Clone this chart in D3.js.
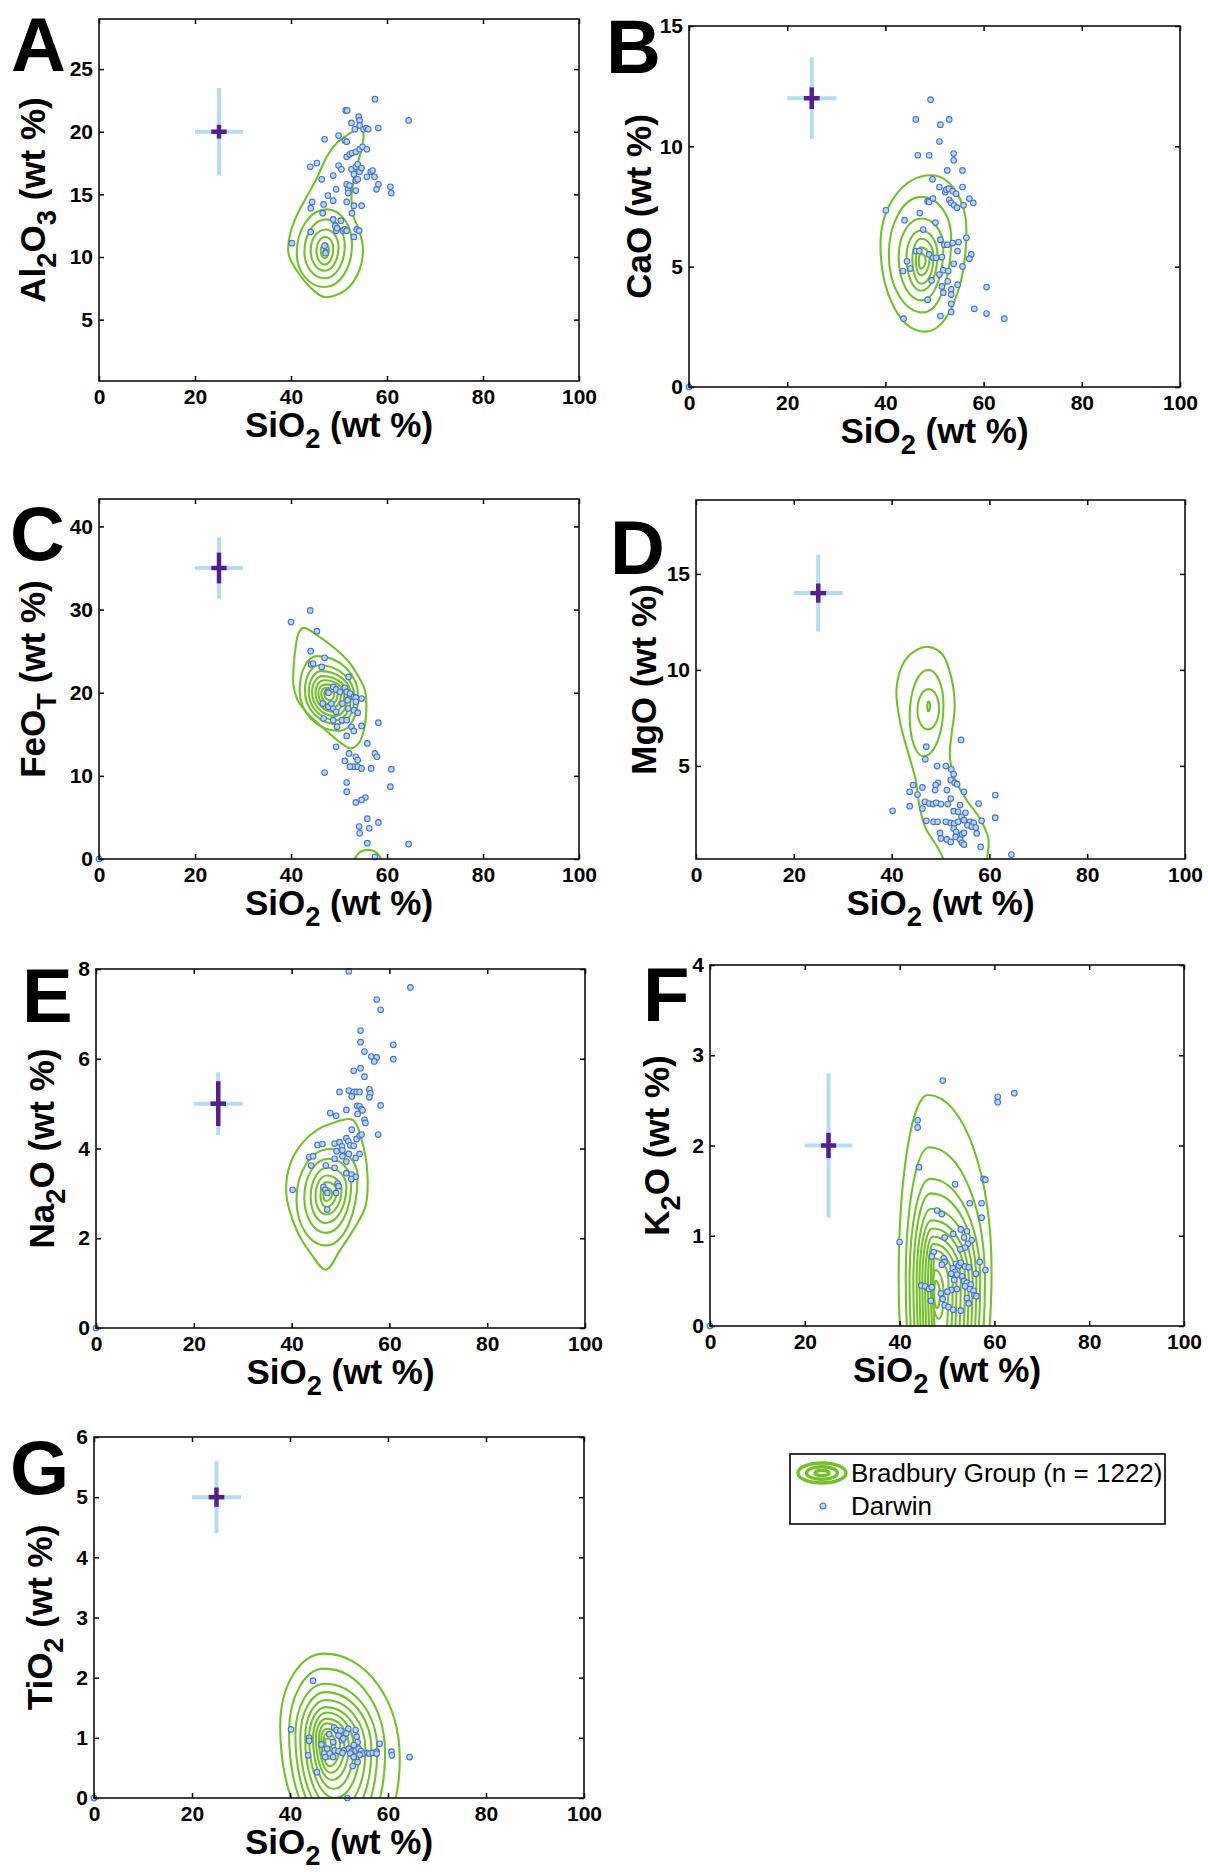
<!DOCTYPE html>
<html><head><meta charset="utf-8">
<script src="https://cdn.jsdelivr.net/npm/d3@7"></script>
<style>
body{margin:0;background:#fff;}
svg{display:block;}
</style></head><body>
<svg id="chart" width="1208" height="1872"></svg>
<script>
// ---------------- DATA ----------------
const xTicks = [0, 20, 40, 60, 80, 100];
const xDomain = [0, 100];

const yDomainAl2O3 = [0.1, 29];
const yDomainCaO = [0, 15];
const yDomainFeOT = [0, 43.3];
const yDomainMgO = [0.15, 18.85];
const yDomainNa2O = [0, 8];
const yDomainK2O = [0, 4];
const yDomainTiO2 = [0, 6];

const yTicksAl2O3 = [5, 10, 15, 20, 25];
const yTicksCaO = [0, 5, 10, 15];
const yTicksFeOT = [0, 10, 20, 30, 40];
const yTicksMgO = [5, 10, 15];
const yTicksNa2O = [0, 2, 4, 6, 8];
const yTicksK2O = [0, 1, 2, 3, 4];
const yTicksTiO2 = [0, 1, 2, 3, 4, 5, 6];

// Darwin points [SiO2, oxide]
const darwinAl2O3 = [[40.2,11.1],[44.0,17.2],[45.4,17.5],[44.4,14.4],[44.1,13.9],[44.1,12.0],[46.4,16.2],[47.0,19.4],[46.8,14.2],[46.6,13.5],[47.7,14.9],[48.8,14.5],[48.8,16.5],[49.4,15.4],[49.9,19.7],[49.9,17.3],[50.5,17.0],[48.8,13.0],[49.2,12.5],[49.4,12.1],[49.6,12.3],[50.4,12.9],[50.8,12.1],[51.2,12.2],[51.6,12.1],[47.0,10.9],[47.2,10.4],[47.2,10.3],[51.4,21.7],[51.7,21.7],[52.6,20.7],[51.2,19.3],[51.6,19.2],[54.1,21.2],[54.3,20.9],[54.3,20.5],[53.3,20.2],[55.1,20.2],[55.7,20.3],[56.1,20.2],[58.2,20.3],[57.5,22.6],[64.5,20.9],[51.6,18.0],[52.2,18.2],[52.7,18.3],[53.5,18.4],[54.3,18.6],[54.9,18.8],[55.8,18.6],[51.6,15.8],[51.9,15.4],[51.9,15.1],[52.2,15.7],[52.6,17.0],[53.1,16.6],[53.5,17.2],[53.9,17.4],[54.3,16.8],[53.5,16.1],[53.5,15.3],[53.9,16.2],[54.7,17.1],[55.8,16.4],[56.6,16.8],[57.0,16.9],[57.4,16.4],[57.8,15.4],[58.2,15.8],[51.6,14.4],[52.7,13.5],[53.1,14.1],[54.7,14.1],[53.1,11.6],[53.7,12.2],[54.2,12.1],[60.7,15.6],[60.9,15.1]];
const darwinCaO = [[49.2,11.94],[46.2,11.12],[51.2,10.9],[53.0,11.12],[51.0,10.2],[46.6,9.63],[48.9,9.63],[53.9,9.70],[53.9,9.42],[52.6,9.0],[55.7,9.0],[49.6,8.63],[51.0,8.31],[52.2,8.1],[52.4,8.2],[52.9,8.24],[53.7,8.14],[54.4,8.03],[55.7,8.31],[48.6,7.71],[48.9,7.69],[49.7,7.83],[53.0,7.78],[53.4,7.65],[54.0,7.55],[54.6,7.45],[55.9,7.55],[57.1,7.83],[57.9,7.65],[40.1,7.34],[47.0,7.23],[43.9,6.93],[50.2,6.83],[47.7,6.54],[51.2,6.12],[52.0,5.91],[52.6,5.91],[53.7,5.98],[54.9,6.02],[56.5,6.2],[54.7,5.65],[46.2,5.65],[46.9,5.65],[48.9,5.51],[49.7,5.37],[50.3,5.37],[51.5,5.40],[57.5,5.51],[57.1,5.33],[44.4,5.22],[53.9,5.12],[55.7,5.01],[45.1,4.92],[43.6,4.82],[51.8,4.85],[52.8,4.82],[51.0,4.67],[49.4,4.43],[52.7,4.39],[54.7,4.25],[51.5,4.18],[51.8,3.92],[53.4,4.06],[53.4,3.84],[60.6,4.15],[48.6,3.63],[53.4,3.46],[53.4,3.12],[58.1,3.25],[60.6,3.05],[64.2,2.84],[51.2,2.95],[43.7,2.84],[0,0]];
const darwinFeOT = [[40.0,28.5],[44.0,29.9],[45.4,27.4],[44.1,25.0],[44.2,23.4],[44.6,23.5],[46.4,23.1],[47.0,24.2],[47.6,20.1],[47.8,20.0],[46.6,18.7],[46.8,16.9],[48.8,20.7],[49.4,20.4],[50.2,20.1],[51.2,20.6],[52.0,21.9],[51.6,20.1],[52.3,19.9],[53.1,19.5],[53.5,19.4],[54.7,19.3],[53.5,18.9],[47.8,18.3],[48.8,18.1],[48.4,18.7],[49.4,17.7],[50.7,18.7],[51.8,19.1],[51.9,18.1],[53.1,17.9],[53.9,17.6],[48.8,16.7],[49.6,15.9],[50.6,16.7],[51.6,16.7],[52.6,15.9],[53.1,15.4],[51.6,14.8],[54.7,16.0],[58.2,16.4],[49.4,13.5],[52.1,12.7],[55.9,13.9],[57.5,12.7],[57.9,12.3],[53.5,12.3],[53.9,11.9],[53.1,11.1],[52.3,11.1],[53.9,11.1],[54.7,10.9],[56.7,10.9],[51.2,11.8],[60.9,10.8],[47.0,10.4],[51.6,9.2],[60.7,8.7],[51.6,8.1],[55.5,7.4],[54.7,7.1],[53.5,6.8],[55.9,4.85],[56.3,3.7],[54.2,3.9],[54.3,3.1],[58.2,4.4],[55.9,1.9],[64.5,1.8],[57.5,0.25],[0,0]];
const darwinMgO = [[54.2,6.35],[47.1,6.0],[46.9,5.34],[49.3,4.99],[51.1,4.99],[52.2,4.82],[52.7,4.56],[52.1,4.26],[52.9,4.12],[53.4,4.05],[49.5,4.12],[49.0,4.0],[44.4,4.0],[43.7,3.65],[46.3,3.88],[45.3,3.51],[48.9,3.74],[51.3,3.74],[52.1,3.30],[54.8,3.65],[61.2,3.48],[46.8,3.13],[47.7,3.04],[48.5,3.01],[49.1,3.08],[50.1,3.01],[51.5,3.01],[54.0,2.96],[57.8,3.04],[43.7,2.90],[46.3,2.78],[40.2,2.66],[52.7,2.64],[53.6,2.61],[55.1,2.56],[54.3,2.35],[61.2,2.30],[47.1,2.14],[48.6,2.09],[49.4,2.09],[51.1,2.09],[52.1,2.03],[52.8,2.0],[53.6,2.09],[54.8,2.17],[56.0,2.09],[56.8,2.03],[58.4,2.14],[55.5,1.91],[56.4,1.83],[57.2,1.79],[49.9,1.51],[52.7,1.74],[53.2,1.57],[54.4,1.43],[54.8,1.51],[57.4,1.48],[50.1,1.22],[51.3,1.17],[52.1,1.04],[53.1,1.30],[54.0,1.17],[54.4,0.99],[54.8,0.90],[58.2,0.78],[64.5,0.38]];
const darwinNa2O = [[51.7,7.95],[64.3,7.59],[57.4,7.32],[58.2,7.09],[54.1,6.63],[54.1,6.37],[54.9,6.16],[56.3,6.05],[57.4,6.03],[56.9,5.94],[60.8,6.31],[60.8,5.99],[54.1,5.79],[52.7,5.73],[54.9,5.60],[49.8,5.26],[51.7,5.29],[52.7,5.26],[53.3,5.26],[53.9,5.26],[52.3,5.16],[55.9,5.32],[56.1,5.23],[55.9,5.14],[51.2,4.86],[53.4,4.95],[53.9,4.94],[54.3,4.88],[54.5,4.85],[53.5,4.77],[58.2,4.96],[47.9,4.79],[49.1,4.73],[54.9,4.64],[55.1,4.57],[57.7,4.31],[52.3,4.42],[51.2,4.23],[51.6,4.16],[53.3,4.21],[53.9,4.29],[54.3,4.31],[45.3,4.08],[46.3,4.10],[48.8,4.11],[49.8,4.14],[50.3,4.05],[52.0,4.07],[52.7,4.06],[49.2,3.94],[50.4,3.96],[51.7,3.88],[53.9,3.88],[53.1,3.79],[43.6,3.81],[44.4,3.83],[50.4,3.83],[51.2,3.71],[48.8,3.77],[44.0,3.62],[47.0,3.62],[48.8,3.57],[51.2,3.45],[52.3,3.42],[53.1,3.37],[52.2,3.32],[49.4,3.22],[49.6,3.16],[46.5,3.14],[46.9,3.08],[47.3,3.01],[40.2,3.08],[49.1,3.01],[47.3,2.64],[0,0]];
const darwinK2O = [[49.1,2.72],[60.7,2.54],[60.7,2.48],[64.2,2.58],[43.8,2.28],[43.8,2.20],[44.1,1.76],[51.7,1.57],[57.7,1.63],[58.1,1.62],[54.8,1.36],[57.3,1.36],[57.3,1.20],[47.9,1.28],[48.9,1.24],[40.0,0.93],[52.9,1.07],[54.2,1.05],[51.3,1.02],[49.5,0.98],[53.6,0.98],[55.2,0.95],[54.4,0.91],[53.8,0.87],[52.8,0.85],[47.2,0.82],[46.8,0.77],[49.3,0.75],[49.5,0.71],[48.9,0.68],[56.9,0.71],[58.1,0.62],[51.9,0.69],[52.5,0.67],[52.9,0.70],[53.8,0.66],[54.6,0.65],[51.2,0.64],[51.7,0.60],[50.9,0.58],[52.1,0.57],[56.1,0.58],[53.2,0.55],[51.5,0.51],[53.6,0.50],[54.2,0.48],[55.0,0.46],[54.8,0.41],[53.8,0.44],[52.1,0.41],[50.9,0.40],[50.1,0.38],[48.7,0.36],[55.6,0.39],[55.8,0.34],[56.2,0.33],[44.6,0.45],[45.4,0.44],[46.2,0.41],[46.8,0.43],[46.6,0.28],[49.1,0.30],[49.5,0.23],[50.3,0.21],[51.3,0.18],[52.9,0.17],[54.2,0.31],[54.6,0.25],[0,0]];
const darwinTiO2 = [[44.7,1.95],[40.2,1.14],[43.9,1.00],[43.9,0.95],[43.7,0.71],[45.5,0.43],[48.0,1.06],[49.0,1.17],[49.5,1.13],[49.9,1.04],[50.3,1.12],[51.9,1.15],[51.5,1.07],[50.6,0.96],[48.8,0.93],[50.9,0.99],[53.4,1.13],[53.6,1.02],[53.8,0.93],[53.0,0.88],[46.4,0.89],[47.6,0.82],[47.0,0.74],[48.1,0.74],[49.1,0.79],[49.9,0.78],[51.0,0.79],[52.0,0.82],[52.6,0.77],[53.4,0.79],[54.0,0.82],[54.5,0.78],[54.9,0.74],[55.8,0.75],[56.2,0.74],[56.9,0.75],[57.7,0.77],[58.3,0.90],[57.7,0.74],[60.7,0.77],[60.8,0.71],[64.4,0.68],[47.2,0.68],[48.8,0.68],[50.7,0.75],[52.3,0.74],[53.0,0.68],[54.2,0.72],[52.8,0.53],[53.8,0.60],[51.7,0.0],[0,0]];

// Bradbury density contours: free-form outer contours [SiO2, oxide] ...
const bradburyOuterAl2O3 = [[[47.0,6.8],[44.2,7.5],[41.6,8.7],[39.5,10.2],[39.8,11.8],[41.3,13.4],[43.4,14.9],[45.4,16.3],[47.3,17.9],[49.3,19.0],[51.6,19.7],[53.6,20.2],[54.5,20.4],[55.1,19.8],[54.7,18.6],[53.4,16.8],[52.6,14.8],[53.0,13.3],[54.3,12.0],[55.0,10.6],[54.2,8.9],[51.5,7.4]]];
const bradburyOuterCaO = [];
const bradburyOuterFeOT = [[[42.6,27.8],[45.5,26.9],[49.6,25.1],[52.2,23.6],[53.8,22.2],[55.4,20.3],[55.7,18.6],[55.3,15.8],[54.2,14.0],[52.5,13.3],[50.3,14.0],[48.0,15.1],[45.5,16.4],[43.3,17.6],[41.3,19.2],[40.5,20.9],[40.6,23.5],[41.0,25.6],[41.6,27.2]]];
const bradburyOuterMgO = [[[47.5,11.2],[50.4,10.8],[52.3,9.5],[52.9,8.1],[52.3,6.7],[51.9,5.6],[52.8,4.4],[55.4,3.2],[58.2,2.2],[59.8,1.2],[59.6,0.3],[59.0,-0.6],[55.0,-1.2],[51.2,-0.6],[50.5,0.2],[49.3,0.8],[46.9,1.8],[45.7,2.9],[44.9,4.3],[43.6,5.5],[41.8,7.2],[41.0,9.0],[42.5,10.4],[44.9,11.0]]];
const bradburyOuterNa2O = [[[52.5,4.64],[54.3,4.2],[55.5,3.45],[55.1,2.71],[53.1,2.27],[50.0,1.75],[47.0,1.30],[43.8,1.68],[41.0,2.19],[38.9,3.01],[39.8,3.68],[42.2,4.12],[45.3,4.42],[48.4,4.57]]];
const bradburyOuterK2O = [];
const bradburyOuterTiO2 = [];

// ... and nested rings given by their extreme points: top x,y, right x,y, bottom x,y, left x,y
const bradburyRingsAl2O3 = [
  [47.5,13.8, 52.7,11.0, 47.0,7.6, 41.2,10.3],
  [47.3,13.0, 51.2,10.9, 47.0,8.3, 42.8,10.4],
  [47.2,12.2, 49.9,10.8, 47.0,8.9, 44.1,10.5],
  [47.1,11.6, 48.8,10.7, 47.0,9.4, 45.3,10.5],
  [47.1,11.1, 47.9,10.6, 47.0,9.9, 46.2,10.5]];
const bradburyRingsCaO = [
  [49.3,8.8, 56.5,6.5, 48.0,2.3, 39.0,5.9],
  [47.4,7.9, 53.4,6.2, 47.7,3.1, 40.7,5.5],
  [47.3,7.0, 51.8,5.8, 47.4,3.6, 42.7,5.4],
  [47.3,6.5, 50.6,5.5, 47.3,4.0, 44.3,5.4],
  [47.3,6.16, 49.8,5.4, 47.3,4.29, 45.5,5.33],
  [47.3,5.8, 49.0,5.33, 47.2,4.64, 46.2,5.26],
  [47.3,5.54, 48.2,5.26, 47.2,4.92, 46.8,5.24]];
const bradburyRingsFeOT = [
  [45.4,24.4, 54.0,19.5, 50.0,15.4, 41.8,20.3],
  [45.9,23.3, 53.2,19.5, 49.8,16.2, 42.9,20.2],
  [46.3,22.6, 52.5,19.6, 49.5,16.7, 43.7,20.1],
  [46.6,22.0, 51.8,19.6, 49.2,17.2, 44.4,20.1],
  [46.9,21.5, 51.1,19.7, 48.9,17.7, 45.1,20.0],
  [47.2,21.0, 50.4,19.7, 48.6,18.2, 45.7,20.0],
  [47.4,20.6, 49.7,19.8, 48.3,18.6, 46.3,19.9],
  [47.7,20.2, 49.0,19.8, 48.1,19.1, 46.9,19.9],
  [56.0,1.1, 58.8,-0.3, 56.0,-1.0, 53.3,-0.3]];
const bradburyRingsMgO = [
  [47.5,10.0, 50.6,8.2, 46.5,5.5, 43.7,7.6],
  [47.6,9.0, 49.7,8.0, 47.4,6.9, 45.3,7.9],
  [47.6,8.35, 47.85,8.1, 47.5,7.85, 47.3,8.1]];
const bradburyRingsNa2O = [
  [47.8,3.99, 53.5,3.38, 47.0,1.84, 41.0,2.86],
  [47.5,3.77, 52.2,3.23, 47.0,2.12, 42.6,2.90],
  [47.3,3.57, 51.2,3.16, 47.0,2.34, 43.9,2.92],
  [47.2,3.40, 50.2,3.08, 47.0,2.53, 44.9,2.94],
  [47.2,3.25, 49.2,3.05, 47.0,2.70, 45.9,2.96],
  [47.1,3.12, 48.3,2.99, 47.0,2.83, 46.5,2.97]];
const bradburyRingsK2O = [
  [46.0,2.56, 59.4,0.6, 49.0,-1.5, 39.8,0.5],
  [46.3,1.98, 58.0,0.5, 49.0,-1.5, 41.3,0.5],
  [46.5,1.63, 57.0,0.5, 49.0,-1.4, 42.1,0.5],
  [46.6,1.47, 56.2,0.5, 49.0,-1.3, 42.9,0.5],
  [46.7,1.30, 55.4,0.5, 49.0,-1.2, 43.6,0.5],
  [46.8,1.17, 54.6,0.5, 49.0,-1.1, 44.2,0.5],
  [46.9,1.08, 53.8,0.5, 49.0,-1.0, 44.8,0.5],
  [47.0,0.99, 52.9,0.5, 49.0,-0.9, 45.4,0.5],
  [47.1,0.91, 52.0,0.5, 49.0,-0.8, 46.0,0.5],
  [47.2,0.84, 51.2,0.5, 48.8,-0.6, 46.6,0.5],
  [47.3,0.75, 50.3,0.5, 48.6,-0.4, 47.1,0.5],
  [47.5,0.62, 49.3,0.35, 48.3,0.08, 47.0,0.35],
  [47.6,0.50, 48.5,0.35, 47.9,0.20, 47.3,0.35]];
const bradburyRingsTiO2 = [
  [47.0,2.40, 62.4,0.65, 52.0,-1.0, 38.0,1.2],
  [47.0,2.15, 59.4,0.75, 51.0,-0.8, 39.8,1.1],
  [47.1,1.90, 57.8,0.8, 50.5,-0.6, 41.1,1.05],
  [47.2,1.76, 56.6,0.8, 50.0,-0.4, 42.1,1.0],
  [47.3,1.63, 55.4,0.8, 49.6,-0.2, 43.1,1.0],
  [47.4,1.51, 54.2,0.82, 49.2,0.0, 43.9,1.0],
  [47.5,1.42, 53.0,0.84, 48.9,0.15, 44.7,1.0],
  [47.5,1.32, 52.0,0.86, 48.6,0.3, 45.3,1.0],
  [47.5,1.24, 51.1,0.88, 48.3,0.42, 45.9,1.0],
  [47.5,1.15, 50.2,0.9, 48.1,0.53, 46.4,1.0],
  [47.5,1.07, 49.3,0.92, 47.9,0.65, 46.9,0.98],
  [47.5,0.99, 48.5,0.93, 47.7,0.78, 47.2,0.95]];

// Uncertainty crosses (SiO2 centre 25): oxide centre, wide (light) and narrow (dark) half-ranges
const crossSiO2 = 25;
const crossSiO2Wide = 5;
const crossSiO2Narrow = 1.6;
const crossCenters = [20, 12, 35, 14, 5, 2, 5];
const crossWideErr = [3.5, 1.7, 3.7, 2.0, 0.7, 0.8, 0.6];
const crossNarrowErr = [0.55, 0.45, 1.85, 0.5, 0.5, 0.14, 0.16];

const legendLabels = ["Bradbury Group (n = 1222)", "Darwin"];

// ---------------- LAYOUT ----------------
const FONT = '"Liberation Sans", Arial, Helvetica, sans-serif';
const GREEN = "#74c02a";
const panels = [
  {id:"A", box:[99,579,19,381], yDomain:yDomainAl2O3, yTicks:yTicksAl2O3, pts:darwinAl2O3, outer:bradburyOuterAl2O3, rings:bradburyRingsAl2O3,
   ylab:[["Al",0],["2",1],["O",0],["3",1],[" (wt %)",0]], ylabDx:54, letter:[11,71]},
  {id:"B", box:[689,1180,26,387], yDomain:yDomainCaO, yTicks:yTicksCaO, pts:darwinCaO, outer:bradburyOuterCaO, rings:bradburyRingsCaO,
   ylab:[["CaO (wt %)",0]], ylabDx:38, letter:[606,73]},
  {id:"C", box:[99,579,499,859], yDomain:yDomainFeOT, yTicks:yTicksFeOT, pts:darwinFeOT, outer:bradburyOuterFeOT, rings:bradburyRingsFeOT,
   ylab:[["FeO",0],["T",1],[" (wt %)",0]], ylabDx:54, letter:[10,560]},
  {id:"D", box:[696,1185,500,859], yDomain:yDomainMgO, yTicks:yTicksMgO, pts:darwinMgO, outer:bradburyOuterMgO, rings:bradburyRingsMgO,
   ylab:[["MgO (wt %)",0]], ylabDx:40, letter:[610,574]},
  {id:"E", box:[96,585,969,1328], yDomain:yDomainNa2O, yTicks:yTicksNa2O, pts:darwinNa2O, outer:bradburyOuterNa2O, rings:bradburyRingsNa2O,
   ylab:[["Na",0],["2",1],["O (wt %)",0]], ylabDx:42, letter:[22,1022]},
  {id:"F", box:[710,1184,965,1326], yDomain:yDomainK2O, yTicks:yTicksK2O, pts:darwinK2O, outer:bradburyOuterK2O, rings:bradburyRingsK2O,
   ylab:[["K",0],["2",1],["O (wt %)",0]], ylabDx:41, letter:[643,1021]},
  {id:"G", box:[94,584,1437,1798], yDomain:yDomainTiO2, yTicks:yTicksTiO2, pts:darwinTiO2, outer:bradburyOuterTiO2, rings:bradburyRingsTiO2,
   ylab:[["TiO",0],["2",1],[" (wt %)",0]], ylabDx:42, letter:[10,1494]}
];
const xlab = [["SiO",0],["2",1],[" (wt %)",0]];

const svg = d3.select("#chart");
svg.append("rect").attr("width",1208).attr("height",1872).attr("fill","#fff");

function addParts(textSel, parts, size){
  const off = size*0.3;
  let prevSub = false;
  parts.forEach(([s,sub])=>{
    const dy = (sub?off:0) - (prevSub?off:0);
    textSel.append("tspan").attr("font-size", sub? size*0.78 : size).attr("dy", dy).text(s);
    prevSub = !!sub;
  });
}

function ringPath(r, x, y){
  const k = 0.5523;
  const T=[x(r[0]),y(r[1])], R=[x(r[2]),y(r[3])], B=[x(r[4]),y(r[5])], L=[x(r[6]),y(r[7])];
  const p = d3.path();
  p.moveTo(T[0],T[1]);
  p.bezierCurveTo(T[0]+k*(R[0]-T[0]),T[1], R[0],R[1]+k*(T[1]-R[1]), R[0],R[1]);
  p.bezierCurveTo(R[0],R[1]+k*(B[1]-R[1]), B[0]+k*(R[0]-B[0]),B[1], B[0],B[1]);
  p.bezierCurveTo(B[0]+k*(L[0]-B[0]),B[1], L[0],L[1]+k*(B[1]-L[1]), L[0],L[1]);
  p.bezierCurveTo(L[0],L[1]+k*(T[1]-L[1]), T[0]+k*(L[0]-T[0]),T[1], T[0],T[1]);
  p.closePath();
  return p.toString();
}

const fmt = d3.format("~g");

panels.forEach((cfg,i)=>{
  const [L,R,T,B] = cfg.box;
  const x = d3.scaleLinear().domain(xDomain).range([L,R]);
  const y = d3.scaleLinear().domain(cfg.yDomain).range([B,T]);
  const g = svg.append("g");
  const clipId = "clip"+cfg.id;
  svg.append("clipPath").attr("id",clipId).append("rect")
    .attr("x",L).attr("y",T).attr("width",R-L).attr("height",B-T);

  // contours
  const cg = g.append("g").attr("clip-path",`url(#${clipId})`)
    .attr("fill","none").attr("stroke",GREEN).attr("stroke-width",2.1);
  const line = d3.line().x(d=>x(d[0])).y(d=>y(d[1])).curve(d3.curveCatmullRomClosed.alpha(0.5));
  cfg.outer.forEach(poly=>cg.append("path").attr("d",line(poly)));
  cfg.rings.forEach(r=>cg.append("path").attr("d",ringPath(r,x,y)));

  // uncertainty cross
  const cy0 = crossCenters[i];
  const cr = g.append("g").attr("stroke-linecap","butt");
  cr.append("line").attr("x1",x(crossSiO2-crossSiO2Wide)).attr("x2",x(crossSiO2+crossSiO2Wide))
    .attr("y1",y(cy0)).attr("y2",y(cy0)).attr("stroke","#b7dcec").attr("stroke-width",4);
  cr.append("line").attr("x1",x(crossSiO2)).attr("x2",x(crossSiO2))
    .attr("y1",y(cy0-crossWideErr[i])).attr("y2",y(cy0+crossWideErr[i])).attr("stroke","#b7dcec").attr("stroke-width",4);
  cr.append("line").attr("x1",x(crossSiO2-crossSiO2Narrow)).attr("x2",x(crossSiO2+crossSiO2Narrow))
    .attr("y1",y(cy0)).attr("y2",y(cy0)).attr("stroke","#52218c").attr("stroke-width",4.5);
  cr.append("line").attr("x1",x(crossSiO2)).attr("x2",x(crossSiO2))
    .attr("y1",y(cy0-crossNarrowErr[i])).attr("y2",y(cy0+crossNarrowErr[i])).attr("stroke","#52218c").attr("stroke-width",4.5);

  // Darwin points
  g.append("g").selectAll("circle").data(cfg.pts).join("circle")
    .attr("cx",d=>x(d[0])).attr("cy",d=>y(d[1])).attr("r",2.8)
    .attr("fill","#bcd4f2").attr("stroke","#4576c2").attr("stroke-width",1.1);

  // axes
  const styleAxis = sel=>{
    sel.select(".domain").remove();
    sel.attr("font-family",FONT).attr("font-size",21).attr("font-weight","bold");
    sel.selectAll(".tick line").attr("stroke","#000").attr("stroke-width",1.5);
    sel.selectAll(".tick text").attr("fill","#000");
  };
  g.append("g").attr("transform",`translate(0,${B})`)
    .call(d3.axisBottom(x).tickValues(xTicks).tickFormat(fmt).tickSizeInner(-5).tickSizeOuter(0).tickPadding(8)).call(styleAxis);
  g.append("g").attr("transform",`translate(0,${T})`)
    .call(d3.axisTop(x).tickValues(xTicks).tickSizeInner(-5).tickSizeOuter(0).tickFormat(()=>"")).call(styleAxis);
  g.append("g").attr("transform",`translate(${L},0)`)
    .call(d3.axisLeft(y).tickValues(cfg.yTicks).tickFormat(fmt).tickSizeInner(-5).tickSizeOuter(0).tickPadding(6)).call(styleAxis);
  g.append("g").attr("transform",`translate(${R},0)`)
    .call(d3.axisRight(y).tickValues(cfg.yTicks).tickSizeInner(-5).tickSizeOuter(0).tickFormat(()=>"")).call(styleAxis);
  g.append("rect").attr("x",L).attr("y",T).attr("width",R-L).attr("height",B-T)
    .attr("fill","none").attr("stroke","#111").attr("stroke-width",1.6);

  // axis labels
  const xl = g.append("text").attr("x",(L+R)/2).attr("y",B+56).attr("text-anchor","middle")
    .attr("font-family",FONT).attr("font-size",35).attr("font-weight","bold").attr("fill","#000");
  addParts(xl, xlab, 35);
  const yl = g.append("text").attr("transform",`translate(${L-cfg.ylabDx},${(T+B)/2}) rotate(-90)`)
    .attr("text-anchor","middle").attr("font-family",FONT).attr("font-size",35).attr("font-weight","bold").attr("fill","#000");
  addParts(yl, cfg.ylab, 35);

  // panel letter
  g.append("text").attr("x",cfg.letter[0]).attr("y",cfg.letter[1]).attr("font-family",FONT)
    .attr("font-size",76).attr("font-weight","bold").attr("fill","#000").text(cfg.id);
});

// legend
const lg = svg.append("g");
lg.append("rect").attr("x",790).attr("y",1454).attr("width",375).attr("height",70)
  .attr("fill","#fff").attr("stroke","#000").attr("stroke-width",1.6);
[[24,10],[15.5,6.3],[7,2.6]].forEach(([rx,ry])=>{
  lg.append("ellipse").attr("cx",822).attr("cy",1473).attr("rx",rx).attr("ry",ry)
    .attr("fill","none").attr("stroke",GREEN).attr("stroke-width",3.4);
});
lg.append("circle").attr("cx",823).attr("cy",1506).attr("r",3)
  .attr("fill","#bcd4f2").attr("stroke","#4576c2").attr("stroke-width",1.1);
lg.selectAll("text.leg").data(legendLabels).join("text").attr("class","leg")
  .attr("x",851).attr("y",(d,i)=>1482+i*33).attr("font-family",FONT).attr("font-size",26)
  .attr("fill","#000").text(d=>d);
</script></body></html>
